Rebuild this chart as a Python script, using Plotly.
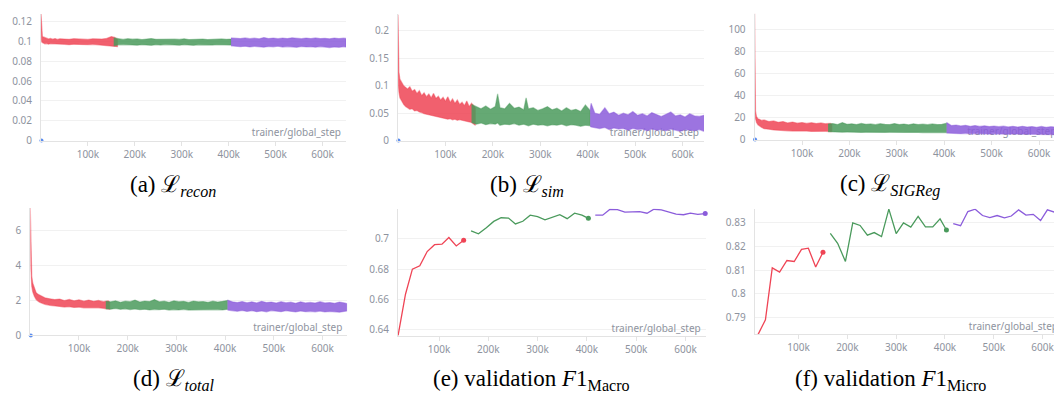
import plotly.graph_objects as go

W, H = 1062, 394
RED, GREEN, PURPLE, BLUE = "#EF4455", "#4A9A5C", "#8B5CDB", "#5B8DEF"
GRAY_TXT = "#8e939e"

# ---------------- data (steps in thousands) ----------------
GREEN_X = [155, 165, 175, 185, 195, 205, 215, 225, 235, 245, 255, 265, 275, 285, 295,
           305, 315, 325, 335, 345, 355, 365, 375, 385, 395, 405]
PURPLE_X = [405, 415, 425, 435, 445, 455, 465, 475, 485, 495, 505, 515, 525, 535, 545,
            555, 565, 575, 585, 595, 605, 615, 625, 635, 645, 650]

# (a) recon loss: lower / upper envelopes of the raw curve
RECON_RED_X = [0, 1, 2, 3, 5, 8, 12, 16, 20, 25, 30, 35, 40, 50, 60, 70, 80, 90, 100, 110,
               120, 130, 140, 150, 157, 163]
RECON_RED_HI = [0.128, 0.112, 0.107, 0.105, 0.1045, 0.104, 0.1035, 0.1025, 0.1030, 0.1022,
                0.1028, 0.1020, 0.1026, 0.1024, 0.1021, 0.1027, 0.1023, 0.1025, 0.1020, 0.1026,
                0.1022, 0.1024, 0.1030, 0.1048, 0.1040, 0.1020]
RECON_RED_LO = [0.118, 0.101, 0.099, 0.0985, 0.098, 0.0975, 0.0978, 0.0972, 0.0976, 0.0970,
                0.0975, 0.0968, 0.0973, 0.0970, 0.0967, 0.0972, 0.0969, 0.0971, 0.0966, 0.0970,
                0.0968, 0.0966, 0.0960, 0.0955, 0.0950, 0.0947]
RECON_GREEN_HI = [0.1035, 0.1025, 0.1020, 0.1027, 0.1022, 0.1025, 0.1019, 0.1024, 0.1028, 0.1021,
                  0.1023, 0.1018, 0.1025, 0.1022, 0.1020, 0.1026, 0.1019, 0.1023, 0.1021, 0.1024,
                  0.1018, 0.1022, 0.1020, 0.1025, 0.1021, 0.1023]
RECON_GREEN_LO = [0.0955, 0.0965, 0.0968, 0.0963, 0.0966, 0.0962, 0.0967, 0.0964, 0.0960, 0.0966,
                  0.0963, 0.0968, 0.0962, 0.0965, 0.0961, 0.0966, 0.0963, 0.0960, 0.0965, 0.0962,
                  0.0966, 0.0963, 0.0967, 0.0962, 0.0965, 0.0963]
RECON_PURPLE_HI = [0.1035, 0.1030, 0.1028, 0.1035, 0.1027, 0.1032, 0.1026, 0.1038, 0.1029, 0.1033,
                   0.1027, 0.1034, 0.1028, 0.1036, 0.1030, 0.1027, 0.1033, 0.1029, 0.1035, 0.1028,
                   0.1031, 0.1026, 0.1034, 0.1029, 0.1032, 0.1030]
RECON_PURPLE_LO = [0.0955, 0.0950, 0.0946, 0.0952, 0.0944, 0.0950, 0.0947, 0.0942, 0.0949, 0.0945,
                   0.0951, 0.0943, 0.0948, 0.0946, 0.0940, 0.0949, 0.0944, 0.0947, 0.0942, 0.0948,
                   0.0945, 0.0938, 0.0944, 0.0940, 0.0946, 0.0943]

# (b) sim loss
SIM_RED_X = [0, 1, 2, 4, 8, 12, 16, 20, 25, 30, 35, 40, 45, 50, 55, 60, 65, 70, 75, 80, 85, 90,
             95, 100, 105, 110, 115, 120, 125, 130, 135, 140, 145, 150, 155, 160, 163]
SIM_RED_HI = [0.230, 0.150, 0.125, 0.112, 0.106, 0.100, 0.097, 0.094, 0.098, 0.090, 0.093, 0.086,
              0.091, 0.082, 0.087, 0.080, 0.085, 0.078, 0.086, 0.077, 0.081, 0.074, 0.079, 0.072,
              0.080, 0.070, 0.076, 0.068, 0.074, 0.066, 0.070, 0.064, 0.072, 0.062, 0.068, 0.064,
              0.060]
SIM_RED_LO = [0.150, 0.100, 0.088, 0.078, 0.072, 0.066, 0.062, 0.060, 0.057, 0.058, 0.054, 0.055,
              0.052, 0.051, 0.049, 0.048, 0.046, 0.045, 0.044, 0.043, 0.042, 0.041, 0.041, 0.040,
              0.039, 0.040, 0.038, 0.039, 0.037, 0.038, 0.036, 0.036, 0.035, 0.034, 0.033, 0.030,
              0.028]
SIM_GREEN_X = [155, 165, 175, 185, 195, 205, 210, 215, 225, 235, 245, 255, 265, 270, 275, 285,
               295, 305, 315, 325, 335, 345, 355, 365, 375, 385, 395, 405]
SIM_GREEN_HI = [0.066, 0.062, 0.058, 0.063, 0.057, 0.062, 0.085, 0.060, 0.058, 0.068, 0.059, 0.061,
                0.056, 0.078, 0.058, 0.060, 0.055, 0.058, 0.062, 0.056, 0.059, 0.054, 0.060, 0.055,
                0.057, 0.053, 0.065, 0.055]
SIM_GREEN_LO = [0.033, 0.030, 0.032, 0.029, 0.031, 0.030, 0.032, 0.028, 0.030, 0.029, 0.031, 0.028,
                0.030, 0.029, 0.027, 0.030, 0.028, 0.029, 0.027, 0.029, 0.028, 0.030, 0.027, 0.029,
                0.028, 0.026, 0.028, 0.027]
SIM_PURPLE_X = [405, 407, 415, 425, 436, 445, 455, 465, 475, 485, 495, 505, 515, 525, 535, 545,
                555, 565, 575, 585, 595, 605, 615, 625, 635, 645, 650]
SIM_PURPLE_HI = [0.055, 0.068, 0.050, 0.048, 0.060, 0.049, 0.052, 0.046, 0.050, 0.047, 0.053,
                 0.046, 0.049, 0.045, 0.051, 0.047, 0.044, 0.048, 0.052, 0.045, 0.047, 0.043,
                 0.049, 0.045, 0.044, 0.046, 0.040]
SIM_PURPLE_LO = [0.026, 0.025, 0.023, 0.022, 0.024, 0.020, 0.023, 0.021, 0.022, 0.019, 0.022,
                 0.020, 0.021, 0.018, 0.021, 0.019, 0.020, 0.018, 0.021, 0.019, 0.017, 0.020,
                 0.019, 0.018, 0.020, 0.017, 0.021]

# (c) SIGReg loss
SIG_RED_X = [0, 0.5, 1, 2, 4, 7, 10, 15, 20, 30, 40, 50, 60, 70, 80, 90, 100, 110, 120, 130,
             140, 150, 160, 163]
SIG_RED_HI = [115, 60, 38, 26, 21, 19, 18.5, 17.5, 18, 16.5, 17, 15.8, 16.5, 15.2, 16, 15.0,
              15.6, 14.8, 15.4, 14.6, 15.2, 14.5, 14.8, 14.0]
SIG_RED_LO = [100, 36, 26, 19, 15.5, 13.5, 12.5, 11, 10, 9.5, 8.8, 8.5, 8.2, 8.0, 7.8, 7.9,
              7.6, 7.8, 7.5, 7.7, 7.4, 7.6, 7.3, 7.5]
SIG_GREEN_HI = [14.2, 14.6, 13.8, 15.5, 14.0, 14.4, 13.7, 14.8, 13.9, 14.3, 13.6, 14.5, 14.0,
                13.8, 14.6, 13.7, 14.2, 13.5, 14.4, 13.8, 14.1, 13.6, 14.3, 13.7, 14.0, 15.0]
SIG_GREEN_LO = [7.2, 6.9, 7.1, 6.8, 7.0, 6.7, 6.9, 6.6, 6.8, 6.9, 6.5, 6.8, 6.6, 6.7, 6.4, 6.7,
                6.5, 6.6, 6.3, 6.6, 6.4, 6.5, 6.2, 6.5, 6.3, 6.4]
SIG_PURPLE_HI = [15.5, 12.8, 13.3, 12.5, 13.0, 12.2, 12.8, 12.0, 12.6, 11.9, 12.4, 11.8, 12.3,
                 11.6, 12.1, 11.5, 12.2, 11.4, 11.9, 11.3, 12.0, 11.2, 11.8, 11.5, 12.2, 10.5]
SIG_PURPLE_LO = [6.0, 5.6, 5.8, 5.4, 5.7, 5.3, 5.5, 5.2, 5.4, 5.1, 5.3, 5.0, 5.2, 4.9, 5.1, 4.8,
                 5.0, 4.7, 4.9, 4.6, 4.8, 4.5, 4.7, 4.6, 4.5, 4.8]

# (d) total loss
TOT_RED_X = [0, 1, 2, 3, 5, 8, 12, 16, 20, 25, 30, 40, 50, 60, 70, 80, 90, 100, 110, 120, 130,
             140, 150, 160, 163]
TOT_RED_HI = [7.3, 5.2, 4.0, 3.4, 3.0, 2.7, 2.45, 2.35, 2.3, 2.2, 2.15, 2.1, 2.05, 2.08, 2.0,
              2.06, 1.98, 2.04, 1.96, 2.02, 1.95, 2.0, 1.93, 1.98, 1.9]
TOT_RED_LO = [6.0, 3.8, 3.2, 2.8, 2.5, 2.25, 2.05, 1.95, 1.88, 1.82, 1.78, 1.72, 1.68, 1.66,
              1.62, 1.64, 1.6, 1.62, 1.58, 1.6, 1.57, 1.58, 1.55, 1.52, 1.5]
TOT_GREEN_HI = [1.95, 1.92, 1.98, 1.90, 1.96, 1.93, 2.02, 1.91, 1.97, 1.94, 2.05, 1.92, 1.96,
                1.90, 1.98, 1.93, 1.95, 1.89, 1.97, 1.92, 1.94, 1.90, 1.96, 1.91, 1.95, 2.0]
TOT_GREEN_LO = [1.52, 1.50, 1.54, 1.49, 1.52, 1.48, 1.51, 1.47, 1.50, 1.46, 1.49, 1.47, 1.50,
                1.45, 1.48, 1.46, 1.49, 1.45, 1.47, 1.48, 1.46, 1.50, 1.47, 1.48, 1.46, 1.50]
TOT_PURPLE_HI = [2.02, 1.92, 1.88, 1.94, 1.87, 1.92, 1.86, 1.95, 1.88, 1.91, 1.85, 1.93, 1.87,
                 1.90, 1.84, 1.92, 1.86, 1.89, 1.85, 1.93, 1.86, 1.88, 1.84, 1.91, 1.86, 1.82]
TOT_PURPLE_LO = [1.45, 1.42, 1.38, 1.43, 1.37, 1.41, 1.36, 1.40, 1.35, 1.42, 1.38, 1.36, 1.41,
                 1.37, 1.34, 1.40, 1.36, 1.38, 1.35, 1.39, 1.34, 1.37, 1.35, 1.33, 1.38, 1.40]

# fourth (blue) run: a single logged point near the origin
BLUE_X = [1]
BLUE_Y = [0]

# (e), (f) validation F1
VAL_RED_STEPS = [17, 32, 46, 61, 76, 91, 106, 120, 135, 150]
VAL_GREEN_STEPS = [165, 180, 196, 211, 226, 241, 255, 270, 285, 300, 315, 330, 345, 360, 375,
                   390, 403]
VAL_PURPLE_STEPS = [417, 432, 447, 462, 477, 492, 507, 522, 536, 551, 566, 581, 596, 610, 625,
                    640]
MACRO_RED = [0.6364, 0.6635, 0.6801, 0.6823, 0.6917, 0.6962, 0.6966, 0.7010, 0.6954, 0.6991]
MACRO_GREEN = [0.7053, 0.7034, 0.7074, 0.7116, 0.7140, 0.7138, 0.7099, 0.7117, 0.7157, 0.7148,
               0.7126, 0.7142, 0.7160, 0.7134, 0.7170, 0.7157, 0.7136]
MACRO_PURPLE = [0.7157, 0.7157, 0.7196, 0.7194, 0.7177, 0.7181, 0.7181, 0.7170, 0.7196, 0.7192,
                0.7177, 0.7164, 0.7160, 0.7170, 0.7162, 0.7168]
MICRO_RED = [0.7829, 0.7891, 0.8110, 0.8092, 0.8141, 0.8137, 0.8188, 0.8193, 0.8114, 0.8176]
MICRO_GREEN = [0.8256, 0.8214, 0.8137, 0.8300, 0.8289, 0.8248, 0.8259, 0.8242, 0.8358, 0.8255,
               0.8300, 0.8282, 0.8327, 0.8283, 0.8283, 0.8317, 0.8270]
MICRO_PURPLE = [0.8297, 0.8288, 0.8348, 0.8358, 0.8331, 0.8322, 0.8331, 0.8321, 0.8329, 0.8355,
                0.8333, 0.8336, 0.8310, 0.8355, 0.8345, 0.8347]

X_TICKS = [100, 200, 300, 400, 500, 600]
X_TICK_LABELS = ["100k", "200k", "300k", "400k", "500k", "600k"]
AXIS_TITLE = "trainer/global_step"

CAPTIONS = [
    "(a) ℒ<sub><i>recon</i></sub>",
    "(b) ℒ<sub><i>sim</i></sub>",
    "(c) ℒ<sub><i>SIGReg</i></sub>",
    "(d) ℒ<sub><i>total</i></sub>",
    "(e) validation <i>F</i>1<sub>Macro</sub>",
    "(f) validation <i>F</i>1<sub>Micro</sub>",
]

# ---------------- layout of the panels (pixel boxes) ----------------
PANELS = [
    dict(box=(33, 338, 6, 135), xr=(0, 650), yr=(0, 0.1277),
         yt=[0, 0.02, 0.04, 0.06, 0.08, 0.1, 0.12],
         yl=["0", "0.02", "0.04", "0.06", "0.08", "0.1", "0.12"], cap=(165, 181)),
    dict(box=(390, 696, 6.5, 135), xr=(0, 645), yr=(0, 0.23),
         yt=[0, 0.05, 0.1, 0.15, 0.2], yl=["0", "0.05", "0.1", "0.15", "0.2"], cap=(519, 181)),
    dict(box=(746.6, 1053.3, 5.6, 134), xr=(0, 647), yr=(0, 115),
         yt=[0, 20, 40, 60, 80, 100], yl=["0", "20", "40", "60", "80", "100"], cap=(882, 181)),
    dict(box=(22.3, 339.3, 203.6, 333.3), xr=(0, 651), yr=(0, 7.3),
         yt=[0, 2, 4, 6], yl=["0", "2", "4", "6"], cap=(166, 379)),
    dict(box=(390, 697.7, 204.3, 334.3), xr=(16.8, 641), yr=(0.6357, 0.7200),
         yt=[0.64, 0.66, 0.68, 0.7], yl=["0.64", "0.66", "0.68", "0.7"], cap=(523, 379)),
    dict(box=(746.7, 1055, 204.3, 332.3), xr=(10, 642), yr=(0.7829, 0.8360),
         yt=[0.79, 0.8, 0.81, 0.82, 0.83], yl=["0.79", "0.8", "0.81", "0.82", "0.83"],
         cap=(882, 379)),
]

BANDS = [
    [(RECON_RED_X, RECON_RED_LO, RECON_RED_HI, RED),
     (GREEN_X, RECON_GREEN_LO, RECON_GREEN_HI, GREEN),
     (PURPLE_X, RECON_PURPLE_LO, RECON_PURPLE_HI, PURPLE)],
    [(SIM_RED_X, SIM_RED_LO, SIM_RED_HI, RED),
     (SIM_GREEN_X, SIM_GREEN_LO, SIM_GREEN_HI, GREEN),
     (SIM_PURPLE_X, SIM_PURPLE_LO, SIM_PURPLE_HI, PURPLE)],
    [(SIG_RED_X, SIG_RED_LO, SIG_RED_HI, RED),
     (GREEN_X, SIG_GREEN_LO, SIG_GREEN_HI, GREEN),
     (PURPLE_X, SIG_PURPLE_LO, SIG_PURPLE_HI, PURPLE)],
    [(TOT_RED_X, TOT_RED_LO, TOT_RED_HI, RED),
     (GREEN_X, TOT_GREEN_LO, TOT_GREEN_HI, GREEN),
     (PURPLE_X, TOT_PURPLE_LO, TOT_PURPLE_HI, PURPLE)],
]
VALS = [
    [(VAL_RED_STEPS, MACRO_RED, RED), (VAL_GREEN_STEPS, MACRO_GREEN, GREEN),
     (VAL_PURPLE_STEPS, MACRO_PURPLE, PURPLE)],
    [(VAL_RED_STEPS, MICRO_RED, RED), (VAL_GREEN_STEPS, MICRO_GREEN, GREEN),
     (VAL_PURPLE_STEPS, MICRO_PURPLE, PURPLE)],
]


def rgba(hex_color, a):
    h = hex_color.lstrip("#")
    r, g, b = int(h[0:2], 16), int(h[2:4], 16), int(h[4:6], 16)
    return f"rgba({r},{g},{b},{a})"


fig = go.Figure()
tick_font = dict(family="Noto Sans", size=10, color=GRAY_TXT)

for i, p in enumerate(PANELS):
    n = i + 1
    xa = "x" if n == 1 else f"x{n}"
    ya = "y" if n == 1 else f"y{n}"
    l, r, t, b = p["box"]
    xr = [v * 1000 for v in p["xr"]]
    yr = list(p["yr"])

    # axis title text, drawn under the data
    tx = xr[1] - (xr[1] - xr[0]) * 5 / (r - l)
    ty = yr[0] + (yr[1] - yr[0]) * 7 / (b - t)
    fig.add_trace(go.Scatter(x=[tx], y=[ty], mode="text", text=[AXIS_TITLE],
                             textposition="middle left",
                             textfont=dict(family="Noto Sans", size=10, color=GRAY_TXT),
                             xaxis=xa, yaxis=ya, showlegend=False, hoverinfo="skip"))

    if i < 4:
        for (xs, lo, hi, col) in BANDS[i]:
            xx = [v * 1000 for v in xs]
            fig.add_trace(go.Scatter(
                x=xx + xx[::-1], y=hi + lo[::-1], mode="lines", fill="toself",
                fillcolor=rgba(col, 0.85), line=dict(color=rgba(col, 0.45), width=1.2),
                xaxis=xa, yaxis=ya, showlegend=False, hoverinfo="skip"))
        fig.add_trace(go.Scatter(x=[v * 1000 for v in BLUE_X], y=BLUE_Y, mode="markers",
                                 marker=dict(color=BLUE, size=4), cliponaxis=False,
                                 xaxis=xa, yaxis=ya, showlegend=False))
    else:
        for (xs, ys, col) in VALS[i - 4]:
            xx = [v * 1000 for v in xs]
            fig.add_trace(go.Scatter(x=xx, y=ys, mode="lines", line=dict(color=col, width=1.3),
                                     xaxis=xa, yaxis=ya, showlegend=False))
            fig.add_trace(go.Scatter(x=[xx[-1]], y=[ys[-1]], mode="markers",
                                     marker=dict(color=col, size=5), cliponaxis=False,
                                     xaxis=xa, yaxis=ya, showlegend=False))

    xkey = "xaxis" if n == 1 else f"xaxis{n}"
    ykey = "yaxis" if n == 1 else f"yaxis{n}"
    fig.update_layout(**{
        xkey: dict(domain=[l / W, r / W], range=xr, anchor=ya,
                   tickvals=[v * 1000 for v in X_TICKS], ticktext=X_TICK_LABELS,
                   showgrid=False, zeroline=False, showline=True, linecolor="#e3e3e3",
                   linewidth=1, ticks="outside", ticklen=4, tickcolor="#e3e3e3",
                   tickfont=tick_font, ticklabelstandoff=0),
        ykey: dict(domain=[1 - b / H, 1 - t / H], range=yr, anchor=xa,
                   tickvals=p["yt"], ticktext=p["yl"], showgrid=True, gridcolor="#f1f1f1",
                   gridwidth=1, zeroline=False, showline=True, linecolor="#e3e3e3",
                   linewidth=1, ticks="", tickfont=tick_font, ticklabelstandoff=6),
    })
    cx, cy = p["cap"]
    fig.add_annotation(x=cx / W, y=1 - cy / H, xref="paper", yref="paper",
                       text=CAPTIONS[i], showarrow=False, xanchor="center", yanchor="middle",
                       font=dict(family="Liberation Serif", size=23, color="#000000"))

fig.update_layout(width=W, height=H, margin=dict(l=0, r=0, t=0, b=0),
                  paper_bgcolor="white", plot_bgcolor="white", showlegend=False)

fig.write_html("out.html")
